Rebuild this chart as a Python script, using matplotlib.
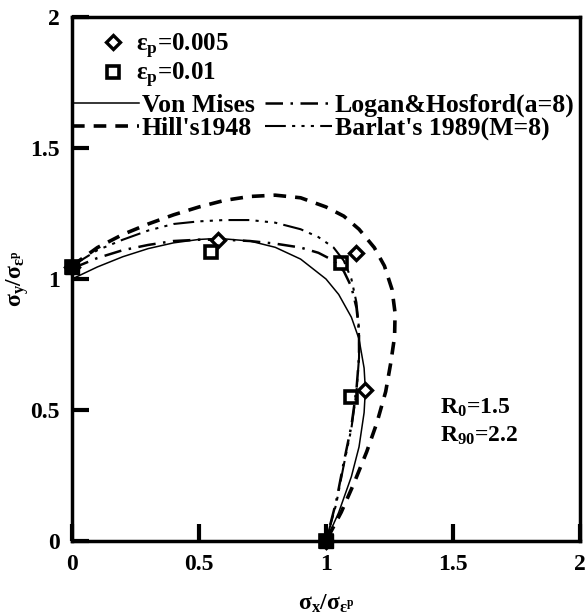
import matplotlib
matplotlib.use('Agg')
import matplotlib.pyplot as plt
from matplotlib.lines import Line2D

plt.rcParams.update({
    'font.family': 'Liberation Serif',
    'font.weight': 'bold',
    'mathtext.fontset': 'custom',
    'mathtext.rm': 'Liberation Serif:bold',
    'mathtext.it': 'Liberation Serif:bold',
    'mathtext.bf': 'Liberation Serif:bold',
})

# ---------------- data ----------------
ticks = [0, 0.5, 1, 1.5, 2]
tick_labels = ['0', '0.5', '1', '1.5', '2']

# experimental points
e005_x = [0.0, 0.574, 1.117, 1.152, 1.0]
e005_y = [1.045, 1.149, 1.100, 0.576, 0.0]
e001_x = [0.0, 0.547, 1.060, 1.098, 1.0]
e001_y = [1.045, 1.103, 1.060, 0.550, 0.0]

# Von Mises
vm_x = [0.0, 0.1, 0.2, 0.3, 0.4, 0.5, 0.577, 0.7, 0.8, 0.9, 1.0, 1.05, 1.1, 1.13,
        1.15, 1.155, 1.15, 1.13, 1.1, 1.05, 1.0]
vm_y = [1.0, 1.046, 1.085, 1.116, 1.138, 1.151, 1.155, 1.145, 1.121, 1.076, 1.0,
        0.941, 0.854, 0.771, 0.66, 0.577, 0.49, 0.359, 0.246, 0.109, 0.0]

# Hill's 1948
hill_x = [0.0, 0.1, 0.2, 0.3, 0.4, 0.5, 0.6, 0.7, 0.8, 0.9, 1.0, 1.07, 1.13, 1.19,
          1.23, 1.26, 1.272, 1.27, 1.255, 1.235, 1.20, 1.16, 1.11, 1.06, 1.0]
hill_y = [1.05, 1.12, 1.17, 1.21, 1.245, 1.275, 1.30, 1.315, 1.32, 1.31, 1.275, 1.24,
          1.19, 1.12, 1.05, 0.96, 0.87, 0.78, 0.68, 0.57, 0.45, 0.34, 0.22, 0.11, 0.0]

# Logan & Hosford (a=8)
logan_x = [0.0, 0.1, 0.2, 0.3, 0.4, 0.5, 0.6, 0.7, 0.8, 0.9, 0.97, 1.03, 1.07, 1.10,
           1.12, 1.13, 1.13, 1.12, 1.10, 1.07, 1.04, 1.0]
logan_y = [1.04, 1.08, 1.11, 1.13, 1.145, 1.15, 1.15, 1.145, 1.135, 1.12, 1.10, 1.07,
           1.03, 0.97, 0.89, 0.80, 0.70, 0.58, 0.44, 0.30, 0.15, 0.0]

# Barlat's 1989 (M=8)
barlat_x = [0.0, 0.1, 0.2, 0.3, 0.4, 0.5, 0.6, 0.7, 0.8, 0.9, 0.97, 1.03, 1.07, 1.10,
            1.12, 1.13, 1.13, 1.12, 1.10, 1.07, 1.04, 1.0]
barlat_y = [1.05, 1.11, 1.15, 1.185, 1.21, 1.22, 1.225, 1.225, 1.215, 1.19, 1.16, 1.12,
            1.07, 1.00, 0.91, 0.81, 0.70, 0.57, 0.43, 0.29, 0.14, 0.0]

# ---------------- figure ----------------
fig = plt.figure(figsize=(5.87, 6.14), dpi=100)
ax = fig.add_axes([72 / 587, 1 - 541 / 614, 508 / 587, 524 / 614])

ax.plot(vm_x, vm_y, color='black', lw=1.1)
ax.plot(hill_x, hill_y, color='black', lw=2.6, dashes=(3.5, 2.5))
ax.plot(logan_x, logan_y, color='black', lw=1.8, dashes=(7, 3, 1, 3))
ax.plot(barlat_x, barlat_y, color='black', lw=1.5, dashes=(10, 3, 1.5, 3, 1.5, 3, 1.5, 3))

ax.plot(e005_x, e005_y, ls='none', marker='D', ms=7, mfc='white', mec='black', mew=2.4,
        clip_on=False, zorder=5)
ax.plot(e001_x, e001_y, ls='none', marker='s', ms=9, mfc='none', mec='black', mew=2.6,
        clip_on=False, zorder=5)
# coinciding points of both series appear as solid blobs
ax.plot([e001_x[0], e001_x[4]], [e001_y[0], e001_y[4]], ls='none', marker='s', ms=10,
        mfc='black', mec='black', clip_on=False, zorder=6)

ax.set_xlim(0, 2)
ax.set_ylim(0, 2)
ax.set_xticks(ticks)
ax.set_xticklabels(tick_labels)
ax.set_yticks(ticks)
ax.set_yticklabels(tick_labels)
ax.tick_params(direction='in', length=12, width=3, labelsize=17, pad=9)
for s in ax.spines.values():
    s.set_linewidth(2.5)

ax.set_xlabel(r'$\mathrm{σ_x/σ_{ε^p}}$', fontsize=17)
ax.xaxis.set_label_coords(0.5, -0.098)
ax.set_ylabel(r'$\mathrm{σ_y/σ_{ε^p}}$', fontsize=17)
ax.yaxis.set_label_coords(-0.08, 0.5)

ax.text(1.45, 0.51, r'$\mathrm{R_0}$=1.5', fontsize=17, va='center', ha='left')
ax.text(1.45, 0.40, r'$\mathrm{R_{90}}$=2.2', fontsize=17, va='center', ha='left')

# legends
h1 = Line2D([], [], ls='none', marker='D', ms=7, mfc='white', mec='black', mew=2.4)
h2 = Line2D([], [], ls='none', marker='s', ms=9, mfc='none', mec='black', mew=2.6)
leg1 = ax.legend([h1, h2], [r'$\mathrm{ε_p}$=0.005', r'$\mathrm{ε_p}$=0.01'],
                 loc='upper left', bbox_to_anchor=(0.057, 0.972), frameon=False,
                 borderaxespad=0, borderpad=0, handlelength=1.0, handletextpad=0.4,
                 labelspacing=0.0, fontsize=18)
ax.add_artist(leg1)

l_vm = Line2D([], [], color='black', lw=1.1)
l_hill = Line2D([], [], color='black', lw=2.6, dashes=(3.5, 2.5))
l_logan = Line2D([], [], color='black', lw=1.8, dashes=(7, 3, 1, 3))
l_barlat = Line2D([], [], color='black', lw=1.5, dashes=(10, 3, 1.5, 3, 1.5, 3, 1.5, 3))
ax.legend([l_vm, l_hill, l_logan, l_barlat],
          ['Von Mises', "Hill's1948", 'Logan&Hosford(a=8)', "Barlat's 1989(M=8)"],
          ncol=2, loc='upper left', bbox_to_anchor=(0.0, 0.854), frameon=False,
          borderaxespad=0, borderpad=0, handlelength=2.6, handletextpad=0.12,
          columnspacing=0.4, labelspacing=0.0, fontsize=18.5)

fig.savefig('out.png', dpi=100)
